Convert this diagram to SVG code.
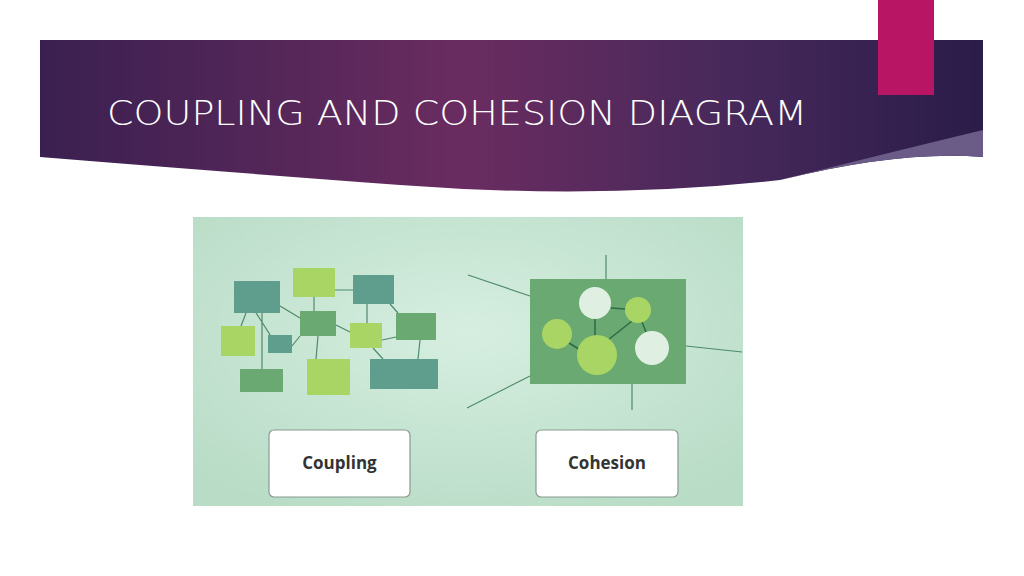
<svg xmlns="http://www.w3.org/2000/svg" width="1024" height="576" viewBox="0 0 1024 576">
<defs>
<linearGradient id="hd" x1="0" y1="0" x2="1" y2="0"><stop offset="0" stop-color="#3a2050"/><stop offset="0.45" stop-color="#6a2c60"/><stop offset="0.75" stop-color="#45285a"/><stop offset="1" stop-color="#2a1c48"/></linearGradient>
<radialGradient id="bg" cx="0.5" cy="0.4" r="0.7"><stop offset="0" stop-color="#d6eee0"/><stop offset="1" stop-color="#b8dcc6"/></radialGradient>
<style>
.t{fill:#5f9e8c}.g{fill:#6aaa72}.l{fill:#a8d564}
.ln{stroke:#4f8a6a;stroke-width:1.2;fill:none}
.in{stroke:#2f6a45;stroke-width:1.5;fill:none}
.lb{fill:#fff;stroke:#8a9a90;stroke-width:1.2}
.tx{font-family:"Open Sans","Liberation Sans",sans-serif;font-weight:700;font-size:17px;fill:#333;text-anchor:middle}
</style>
</defs>
<rect width="1024" height="576" fill="#fff"/>
<g id="header">
<path d="M40 40 H983 V157 Q900 150 780 180 Q600 200 400 185 Q200 170 40 157 Z" fill="url(#hd)"/>
<path d="M780 180 Q900 150 983 130 V157 Q900 150 780 180 Z" fill="#6a5c86"/>
<rect x="878" y="0" width="56" height="95" fill="#b81565"/>
<text x="107" y="125" font-family="'DejaVu Sans',sans-serif" font-weight="200" font-size="33" textLength="700" lengthAdjust="spacingAndGlyphs" fill="#fff">COUPLING AND COHESION DIAGRAM</text>
</g>
<rect x="193" y="217" width="550" height="289" fill="url(#bg)"/>
<g id="connectors">
<path class="ln" d="M246 297 L274 341 M262 313 V369 M280 306 L300 318 M314 297 V311 M335 290 H353 M318 336 L316 359 M336 325 L350 332 M292 346 L300 336 M367 304 V323 M382 340 L396 337 M373 348 L383 359 M390 304 L398 313 M420 340 L418 359 M246 313 L241 326"/>
<path class="ln" d="M468 275 L530 296 M606 255 V279 M686 346 L742 352 M467 408 L530 376 M632 384 V410"/>
</g>
<g id="cohesion-module">
<rect x="530" y="279" width="156" height="105" fill="#6aaa72"/>
<path class="in" d="M569 343 L582 351 M595 319 V336 M611 308 L625 309 M608 340 L632 321 M642 322 L646 332"/>
<circle cx="595" cy="303" r="16" fill="#dff0e2"/>
<circle cx="638" cy="310" r="13" fill="#a8d564"/>
<circle cx="557" cy="334" r="15" fill="#a8d564"/>
<circle cx="597" cy="355" r="20" fill="#a8d564"/>
<circle cx="652" cy="348" r="17" fill="#dff0e2"/>
</g>
<g id="coupling-nodes">
<rect class="t" x="234" y="281" width="46" height="32"/>
<rect class="l" x="293" y="268" width="42" height="29"/>
<rect class="t" x="353" y="275" width="41" height="29"/>
<rect class="g" x="300" y="311" width="36" height="25"/>
<rect class="l" x="221" y="326" width="34" height="30"/>
<rect class="t" x="268" y="335" width="24" height="18"/>
<rect class="l" x="350" y="323" width="32" height="25"/>
<rect class="g" x="396" y="313" width="40" height="27"/>
<rect class="g" x="240" y="369" width="43" height="23"/>
<rect class="l" x="307" y="359" width="43" height="36"/>
<rect class="t" x="370" y="359" width="68" height="30"/>
</g>
<g id="coupling-label"><rect class="lb" x="269" y="430" width="141" height="67" rx="5"/><text class="tx" x="339.5" y="469">Coupling</text></g>
<g id="cohesion-label"><rect class="lb" x="536" y="430" width="142" height="67" rx="5"/><text class="tx" x="607" y="469">Cohesion</text></g>
</svg>
